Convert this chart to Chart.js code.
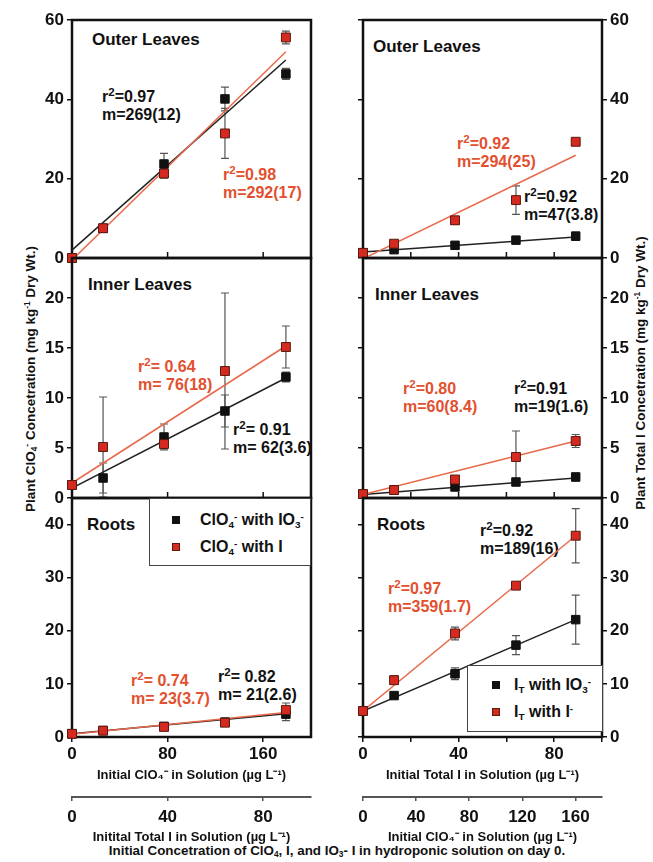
<!DOCTYPE html>
<html>
<head>
<meta charset="utf-8">
<script src="https://cdn.jsdelivr.net/npm/chart.js@4.4.0/dist/chart.umd.min.js"></script>
<style>
  body { margin: 0; background: #fff; }
  #page { position: relative; width: 653px; height: 862px; overflow: hidden; font-family: "Liberation Sans", Arial, sans-serif; font-weight: bold; color: #111; }
  canvas { position: absolute; }
  .t { position: absolute; white-space: nowrap; font-size: 16px; line-height: 18px; }
  .ttl { font-size: 17px; line-height: 20px; }
  .red { color: #e2502f; }
  sup { font-size: 0.62em; vertical-align: 0.5em; line-height: 0; }
  .t sup { font-size: 0.72em; vertical-align: 0.55em; }
  sub { font-size: 0.62em; vertical-align: -0.3em; line-height: 0; }
  .leg { position: absolute; background: #fff; border: 1.5px solid #444; box-sizing: border-box; }
  .leg .row { position: absolute; white-space: nowrap; font-size: 16px; line-height: 18px; }
  .sq { position: absolute; width: 8px; height: 8px; box-sizing: border-box; }
  .sq.blk { background: #111; }
  .sq.rd { background: #d42a20; border: 1px solid #5a1a10; }
  .ytitle { position: absolute; white-space: nowrap; font-size: 13.5px; transform: translate(-50%, -50%) rotate(-90deg); }
  .cap { position: absolute; white-space: nowrap; font-size: 13.4px; transform: translateX(-50%); }
</style>
</head>
<body>
<div id="page">
  <div class="t ttl" style="left:92px;top:30px">Outer Leaves</div>
  <div class="t ttl" style="left:373px;top:37px">Outer Leaves</div>
  <div class="t ttl" style="left:88px;top:275px">Inner Leaves</div>
  <div class="t ttl" style="left:375px;top:285px">Inner Leaves</div>
  <div class="t ttl" style="left:87px;top:515px">Roots</div>
  <div class="t ttl" style="left:377px;top:515px">Roots</div>

  <div class="t" style="left:102px;top:88px">r<sup>2</sup>=0.97<br>m=269(12)</div>
  <div class="t red" style="left:223px;top:166px">r<sup>2</sup>=0.98<br>m=292(17)</div>
  <div class="t red" style="left:457px;top:135px">r<sup>2</sup>=0.92<br>m=294(25)</div>
  <div class="t" style="left:524px;top:188px">r<sup>2</sup>=0.92<br>m=47(3.8)</div>
  <div class="t red" style="left:138px;top:358px">r<sup>2</sup>= 0.64<br>m= 76(18)</div>
  <div class="t" style="left:233px;top:421px">r<sup>2</sup>= 0.91<br>m= 62(3.6)</div>
  <div class="t red" style="left:403px;top:380px">r<sup>2</sup>=0.80<br>m=60(8.4)</div>
  <div class="t" style="left:514px;top:380px">r<sup>2</sup>=0.91<br>m=19(1.6)</div>
  <div class="t red" style="left:131px;top:672px">r<sup>2</sup>= 0.74<br>m= 23(3.7)</div>
  <div class="t" style="left:218px;top:668px">r<sup>2</sup>= 0.82<br>m= 21(2.6)</div>
  <div class="t" style="left:480px;top:522px">r<sup>2</sup>=0.92<br>m=189(16)</div>
  <div class="t red" style="left:388px;top:580px">r<sup>2</sup>=0.97<br>m=359(1.7)</div>

  <div class="ytitle" style="left:30px;top:379px">Plant ClO<sub>4</sub><sup>-</sup> Concetration (mg kg<sup>-1</sup> Dry Wt.)</div>
  <div class="ytitle" style="left:640px;top:373px">Plant Total I Concetration (mg kg<sup>-1</sup> Dry Wt.)</div>
  <div class="cap" style="left:337px;top:843px">Initial Concetration of ClO<sub>4</sub>, I, and IO<sub>3</sub>- I in hydroponic solution on day 0.</div>
</div>

<script>
// doses (x values)
const clo4Dose = [0, 26, 77, 128, 179];
const iDose = [0, 13, 38.5, 64, 89];

// plant ClO4- (left column)
const outerClo4Io3 = [0, 7.5, 23.7, 40.1, 46.4];
const outerClo4Io3Err = [0.3, 0.5, 2.7, 3.0, 1.4];
const outerClo4I = [0, 7.5, 21.3, 31.4, 55.6];
const outerClo4IErr = [0.3, 0.5, 1.2, 6.3, 1.6];
const innerClo4Io3 = [1.3, 2.0, 6.1, 8.7, 12.1];
const innerClo4Io3Err = [0.2, 1.5, 1.3, 1.6, 0.5];
const innerClo4I = [1.3, 5.1, 5.4, 12.7, 15.1];
const innerClo4IErr = [0.2, 5.0, 0.5, 7.8, 2.1];
const rootClo4Io3 = [0.6, 1.2, 2.0, 2.8, 4.3];
const rootClo4Io3Err = [0.2, 0.3, 0.3, 0.3, 1.2];
const rootClo4I = [0.6, 1.2, 1.9, 2.7, 5.1];
const rootClo4IErr = [0.2, 0.3, 0.3, 0.3, 1.3];

// plant total I (right column)
const outerIIo3 = [1.3, 2.1, 3.2, 4.5, 5.5];
const outerIIo3Err = [0.2, 0.3, 0.3, 0.4, 1.0];
const outerII = [1.3, 3.6, 9.5, 14.6, 29.3];
const outerIIErr = [0.2, 0.8, 1.0, 3.6, 0.6];
const innerIIo3 = [0.4, 0.8, 1.1, 1.6, 2.1];
const innerIIo3Err = [0.1, 0.1, 0.1, 0.2, 0.4];
const innerII = [0.4, 0.8, 1.85, 4.1, 5.7];
const innerIIErr = [0.1, 0.1, 0.3, 2.6, 0.65];
const rootIIo3 = [4.9, 7.8, 11.9, 17.3, 22.1];
const rootIIo3Err = [0.3, 0.4, 1.1, 1.8, 4.6];
const rootII = [4.9, 10.7, 19.5, 28.5, 37.9];
const rootIIErr = [0.3, 0.8, 1.2, 0.5, 5.1];

// regression lines: value at dose 0 and at the highest dose
const outerClo4Io3Fit = [2.0, 49.9];
const outerClo4IFit = [-0.5, 52.0];
const innerClo4Io3Fit = [1.0, 12.0];
const innerClo4IFit = [1.5, 15.2];
const rootClo4Io3Fit = [0.6, 4.4];
const rootClo4IFit = [0.5, 4.6];
const outerIIo3Fit = [1.5, 5.3];
const outerIIFit = [-0.2, 25.9];
const innerIIo3Fit = [0.35, 2.0];
const innerIIFit = [0.35, 5.7];
const rootIIo3Fit = [4.9, 22.1];
const rootIIFit = [4.9, 37.9];

// axis ranges
const yMaxes = [60, 24, 45];
const ySteps = [20, 5, 10];
const clo4Max = 200;
const iMax = 100;
const leftX2Max = 100;
const rightX2Max = 180;

const RED_FILL = '#d42a20';
const RED_EDGE = '#5a1a10';
const RED_LINE = '#e8694c';
const BLACK = '#111';
const tickFont = { family: 'Liberation Sans', size: 17, weight: 'bold' };
const titleFont = { family: 'Liberation Sans', size: 13, weight: 'bold' };

const pts = (xs, ys) => xs.map((x, i) => ({ x: x, y: ys[i] }));

const decor = {
  id: 'decor',
  beforeDatasetsDraw(chart) {
    const { ctx, chartArea: a, scales } = chart;
    ctx.save();
    // error bars
    chart.data.datasets.forEach(ds => {
      if (!ds.errors) return;
      ctx.strokeStyle = '#555';
      ctx.lineWidth = 1.2;
      ds.data.forEach((p, j) => {
        const e = ds.errors[j];
        const x = scales.x.getPixelForValue(p.x);
        const y1 = scales.y.getPixelForValue(p.y - e);
        const y2 = scales.y.getPixelForValue(p.y + e);
        ctx.beginPath();
        ctx.moveTo(x, y1); ctx.lineTo(x, y2);
        ctx.moveTo(x - 4, y1); ctx.lineTo(x + 4, y1);
        ctx.moveTo(x - 4, y2); ctx.lineTo(x + 4, y2);
        ctx.stroke();
      });
    });
    // inward ticks on the bottom edge of upper panels
    const xo = chart.options.scales.x;
    if (!xo.display) {
      ctx.strokeStyle = BLACK;
      ctx.lineWidth = 1.5;
      for (let v = xo.ticks.stepSize; v < xo.max; v += xo.ticks.stepSize) {
        const x = scales.x.getPixelForValue(v);
        ctx.beginPath();
        ctx.moveTo(x, a.bottom);
        ctx.lineTo(x, a.bottom - 6);
        ctx.stroke();
      }
    }
    // frame
    ctx.strokeStyle = BLACK;
    ctx.lineWidth = 2.5;
    ctx.strokeRect(a.left, a.top, a.width, a.height);
    ctx.restore();
  }
};

function yAxis(pos, max, step, labels, width) {
  return {
    type: 'linear', position: pos, min: 0, max: max,
    ticks: { stepSize: step, includeBounds: false, display: labels, color: BLACK, font: tickFont, padding: 3 },
    grid: { drawOnChartArea: false, color: BLACK, lineWidth: 1.5, tickLength: 5 },
    border: { display: false },
    afterFit: s => { s.width = width; }
  };
}

function makePanel(p) {
  const cv = document.createElement('canvas');
  cv.width = p.w; cv.height = p.h;
  cv.style.left = p.left + 'px';
  cv.style.top = p.top + 'px';
  document.getElementById('page').appendChild(cv);

  const scales = {};
  scales.x = {
    type: 'linear', position: 'bottom', min: 0, max: p.xMax, display: p.bottom,
    ticks: { stepSize: p.xStep, includeBounds: false, color: BLACK, font: tickFont, padding: 2, maxRotation: 0, autoSkip: false, callback: p.xLabel },
    grid: { drawOnChartArea: false, color: BLACK, lineWidth: 1.5, tickLength: 5 },
    border: { display: false },
    title: { display: p.bottom, text: p.xTitle, color: BLACK, font: titleFont, padding: { top: 0, bottom: 14 } }
  };
  if (p.bottom) {
    scales.x.afterFit = s => { s.height = 60; };
    scales.x2 = {
      type: 'linear', position: 'bottom', weight: 1, min: 0, max: p.x2Max,
      ticks: { stepSize: 40, includeBounds: false, color: BLACK, font: tickFont, padding: 6, maxRotation: 0, autoSkip: false },
      grid: { drawOnChartArea: false, color: '#555', lineWidth: 1.5, tickLength: 4 },
      border: { display: true, color: '#555', width: 2 },
      title: { display: true, text: p.x2Title, color: BLACK, font: titleFont, padding: { top: 0, bottom: 0 } },
      afterFit: s => { s.height = 48; }
    };
  }
  if (p.right) {
    scales.yL = yAxis('left', p.yMax, p.yStep, false, 33);
    scales.y = yAxis('right', p.yMax, p.yStep, true, 30);
  } else {
    scales.y = yAxis('left', p.yMax, p.yStep, true, 72);
  }

  const dose = p.dose;
  const last = dose[dose.length - 1];
  new Chart(cv, {
    type: 'scatter',
    data: {
      datasets: [
        { data: pts(dose, p.red), errors: p.redErr, yAxisID: 'y', pointStyle: 'rect', pointRadius: 6.3,
          backgroundColor: RED_FILL, borderColor: RED_EDGE, borderWidth: 1, clip: false },
        { data: pts(dose, p.black), errors: p.blackErr, yAxisID: 'y', pointStyle: 'rect', pointRadius: 6,
          backgroundColor: BLACK, borderColor: BLACK, borderWidth: 1, clip: false },
        { data: pts([0, last], p.redFit), yAxisID: 'y', showLine: true, pointRadius: 0,
          borderColor: RED_LINE, borderWidth: 1.5 },
        { data: pts([0, last], p.blackFit), yAxisID: 'y', showLine: true, pointRadius: 0,
          borderColor: '#222', borderWidth: 1.5 }
      ]
    },
    options: {
      responsive: false,
      animation: false,
      layout: { padding: p.pad },
      plugins: { legend: { display: false }, tooltip: { enabled: false } },
      scales: scales
    },
    plugins: [decor]
  });
}

const rows = [
  { top: 0, h: 274, pad: { top: 20, bottom: 16 } },
  { top: 242, h: 272, pad: { top: 16, bottom: 16 } },
  { top: 482, h: 363, pad: { top: 16, bottom: 0 } }
];
const leftSets = [
  [outerClo4Io3, outerClo4Io3Err, outerClo4I, outerClo4IErr, outerClo4Io3Fit, outerClo4IFit],
  [innerClo4Io3, innerClo4Io3Err, innerClo4I, innerClo4IErr, innerClo4Io3Fit, innerClo4IFit],
  [rootClo4Io3, rootClo4Io3Err, rootClo4I, rootClo4IErr, rootClo4Io3Fit, rootClo4IFit]
];
const rightSets = [
  [outerIIo3, outerIIo3Err, outerII, outerIIErr, outerIIo3Fit, outerIIFit],
  [innerIIo3, innerIIo3Err, innerII, innerIIErr, innerIIo3Fit, innerIIFit],
  [rootIIo3, rootIIo3Err, rootII, rootIIErr, rootIIo3Fit, rootIIFit]
];

rows.forEach((r, i) => {
  const bottom = i === 2;
  const L = leftSets[i];
  makePanel({
    left: 0, w: 330, top: r.top, h: r.h,
    pad: Object.assign({ left: 0, right: 19 }, r.pad),
    right: false, bottom: bottom,
    dose: clo4Dose, xMax: clo4Max, xStep: 80,
    xTitle: 'Initial ClO₄⁻ in Solution (µg L⁻¹)',
    x2Max: leftX2Max, x2Title: 'Initital Total I in Solution (µg L⁻¹)',
    yMax: yMaxes[i], yStep: ySteps[i],
    black: L[0], blackErr: L[1], red: L[2], redErr: L[3], blackFit: L[4], redFit: L[5]
  });
  const R = rightSets[i];
  makePanel({
    left: 330, w: 302, top: r.top, h: r.h,
    pad: Object.assign({ left: 0, right: 0 }, r.pad),
    right: true, bottom: bottom,
    dose: iDose, xMax: iMax, xStep: 20, xLabel: v => (v % 40 === 0 ? v : ''),
    xTitle: 'Initial Total I in Solution (µg L⁻¹)',
    x2Max: rightX2Max, x2Title: 'Initial ClO₄⁻ in Solution (µg L⁻¹)',
    yMax: yMaxes[i], yStep: ySteps[i],
    black: R[0], blackErr: R[1], red: R[2], redErr: R[3], blackFit: R[4], redFit: R[5]
  });
});

const page = document.getElementById('page');
page.insertAdjacentHTML('beforeend',
  '<div class="leg" style="left:149px;top:498px;width:162px;height:68px">' +
  '<span class="sq blk" style="left:22px;top:17px"></span>' +
  '<div class="row" style="left:50px;top:12px">ClO<sub>4</sub><sup>-</sup> with IO<sub>3</sub><sup>-</sup></div>' +
  '<span class="sq rd" style="left:22px;top:44px"></span>' +
  '<div class="row" style="left:50px;top:39px">ClO<sub>4</sub><sup>-</sup> with I</div>' +
  '</div>' +
  '<div class="leg" style="left:467px;top:665px;width:136px;height:67px">' +
  '<span class="sq blk" style="left:24px;top:15px"></span>' +
  '<div class="row" style="left:46px;top:10px">I<sub>T</sub> with IO<sub>3</sub><sup>-</sup></div>' +
  '<span class="sq rd" style="left:24px;top:42px"></span>' +
  '<div class="row" style="left:46px;top:37px">I<sub>T</sub> with I<sup>-</sup></div>' +
  '</div>');
</script>
</body>
</html>
